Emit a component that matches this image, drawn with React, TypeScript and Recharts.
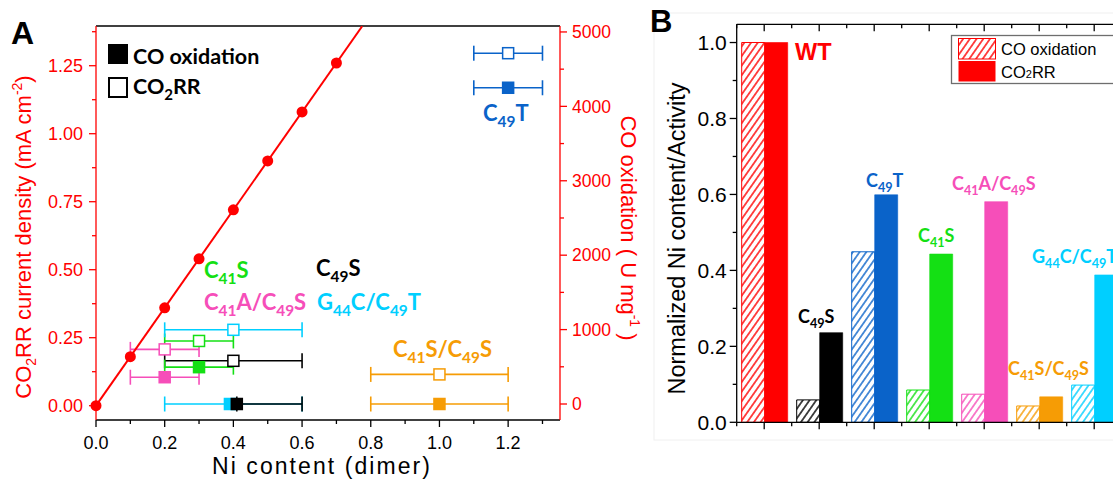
import React from 'react';
import { ScatterChart, Scatter, XAxis, YAxis, ErrorBar, BarChart, Bar, Cell } from 'recharts';

const RED = '#ff0000';
const GREEN = '#14e014';
const PINK = '#f64eb9';
const CYAN = '#00cfff';
const ORANGE = '#f69c05';
const BLUE = '#0a63c9';
const BLACK = '#000000';

const AXIS_FONT = "'Liberation Sans', Arial, sans-serif";
const LABEL_FONT = "Lato, 'Open Sans', sans-serif";

// ---------- panel A ----------
const niTicks = [0, 0.1, 0.2, 0.3, 0.4, 0.5, 0.6, 0.7, 0.8, 0.9, 1.0, 1.1, 1.2, 1.3];
const currentTicks = [0, 0.125, 0.25, 0.375, 0.5, 0.625, 0.75, 0.875, 1.0, 1.125, 1.25, 1.375];
const activityTicks = [0, 500, 1000, 1500, 2000, 2500, 3000, 3500, 4000, 4500, 5000];

// WT dilution points and fitted line
const wtNi = [0, 0.1, 0.2, 0.3, 0.4, 0.5, 0.6, 0.7];
const wtCurrent = [0, 0.18, 0.36, 0.54, 0.72, 0.9, 1.08, 1.26];
const fitNi = [0, 0.775];
const fitCurrent = [0, 1.395];

// mutants (open = CO2RR, left axis; filled = CO oxidation, right axis)
const mutants = ['C41S', 'C41A/C49S', 'G44C/C49T', 'C49S', 'C41S/C49S', 'C49T'];
const mutantColors = [GREEN, PINK, CYAN, BLACK, ORANGE, BLUE];
const mutantNi = [0.3, 0.2, 0.4, 0.4, 1.0, 1.2];
const mutantNiLow = [0.2, 0.1, 0.2, 0.2, 0.8, 1.1];
const mutantNiHigh = [0.4, 0.3, 0.6, 0.6, 1.2, 1.3];
const mutantCurrent = [0.238, 0.207, 0.279, 0.165, 0.115, 1.296];
const activityNi = [0.3, 0.2, 0.39, 0.41, 1.0, 1.2];
const activityNiLow = [0.2, 0.1, 0.2, 0.41, 0.8, 1.1];
const activityNiHigh = [0.4, 0.3, 0.6, 0.6, 1.2, 1.3];
const mutantActivity = [495, 360, 0, 0, 0, 4250];

// ---------- panel B ----------
const bCategories = ['WT', 'C49S', 'C49T', 'C41S', 'C41A/C49S', 'C41S/C49S', 'G44C/C49T'];
const bColors = [RED, BLACK, BLUE, GREEN, PINK, ORANGE, CYAN];
const coOxidationNorm = [1.0, 0.059, 0.449, 0.085, 0.074, 0.043, 0.098];
const co2rrNorm = [1.0, 0.236, 0.599, 0.443, 0.581, 0.067, 0.388];
const normTicks = [0, 0.1, 0.2, 0.3, 0.4, 0.5, 0.6, 0.7, 0.8, 0.9, 1.0];

const wtData = wtNi.map((x, i) => ({ x, y: wtCurrent[i] }));
const fitData = fitNi.map((x, i) => ({ x, y: fitCurrent[i] }));
const barRows = bCategories.map((name, i) => ({ name, coOx: coOxidationNorm[i], co2rr: co2rrNorm[i] }));

const near = (v: number, step: number) => Math.abs(v / step - Math.round(v / step)) < 1e-6;

function makeTick(o: {
  side: 'left' | 'right' | 'bottom' | 'top';
  color: string;
  step: number;
  fmt: (v: number) => string;
  gap: number;
  size: number;
  majorLen?: number;
  minorLen?: number;
}) {
  const majorLen = o.majorLen ?? 7;
  const minorLen = o.minorLen ?? 4;
  return (props: any) => {
    const { x, y, payload } = props;
    const v = payload.value;
    const major = near(v, o.step);
    const len = major ? majorLen : minorLen;
    if (o.side === 'left') {
      return (
        <g>
          <line x1={x} x2={x - len} y1={y} y2={y} stroke={o.color} strokeWidth={1.3} />
          {major && (
            <text x={x - o.gap} y={y} dy="0.36em" textAnchor="end" fill={o.color} fontSize={o.size} fontFamily={AXIS_FONT}>
              {o.fmt(v)}
            </text>
          )}
        </g>
      );
    }
    if (o.side === 'right') {
      return (
        <g>
          <line x1={x} x2={x + len} y1={y} y2={y} stroke={o.color} strokeWidth={1.3} />
          {major && (
            <text x={x + o.gap} y={y} dy="0.36em" textAnchor="start" fill={o.color} fontSize={o.size} fontFamily={AXIS_FONT}>
              {o.fmt(v)}
            </text>
          )}
        </g>
      );
    }
    // bottom (outward) and top (inward) both point down
    return (
      <g>
        <line x1={x} x2={x} y1={y} y2={y + len} stroke={o.color} strokeWidth={1.3} />
        {major && o.side === 'bottom' && (
          <text x={x} y={y + o.gap} textAnchor="middle" fill={o.color} fontSize={o.size} fontFamily={AXIS_FONT}>
            {o.fmt(v)}
          </text>
        )}
      </g>
    );
  };
}

const catTick = (props: any) => {
  const { x, y, payload, index, width } = props;
  const half = payload && payload.offset ? payload.offset : width / bCategories.length / 2;
  return (
    <g>
      <line x1={x} x2={x} y1={y} y2={y + 7} stroke={BLACK} strokeWidth={1.3} />
      <line x1={x - half} x2={x - half} y1={y} y2={y + 4} stroke={BLACK} strokeWidth={1.3} />
      {index === bCategories.length - 1 && (
        <line x1={x + half} x2={x + half} y1={y} y2={y + 4} stroke={BLACK} strokeWidth={1.3} />
      )}
    </g>
  );
};

function Chem({ x, y, text, size, color, weight = 700, family = LABEL_FONT }: any) {
  const parts = text.split(/(\d+)/);
  return (
    <text x={x} y={y} fill={color} fontSize={size} fontWeight={weight} fontFamily={family}>
      {parts.map((p: string, i: number) =>
        i % 2 === 1 ? (
          <tspan key={i} fontSize={size * 0.7} dy={size * 0.28}>{p}</tspan>
        ) : (
          <tspan key={i} dy={i === 0 ? 0 : -size * 0.28}>{p}</tspan>
        )
      )}
    </text>
  );
}

const square = (color: string, filled: boolean) => (p: any) => (
  <rect
    x={p.cx - 5.5}
    y={p.cy - 5.5}
    width={11}
    height={11}
    fill={filled ? color : '#fff'}
    stroke={color}
    strokeWidth={1.5}
  />
);

function PanelA() {
  return (
    <ScatterChart width={650} height={481} margin={{ top: 26, right: 30, bottom: 21, left: 36 }}>
      <XAxis
        type="number"
        dataKey="x"
        domain={[0, 1.351]}
        ticks={niTicks}
        interval={0}
        height={40}
        tickSize={0}
        tickMargin={0}
        tickLine={false}
        axisLine={{ stroke: BLACK, strokeWidth: 1.3 }}
        tick={makeTick({ side: 'bottom', color: BLACK, step: 0.2, fmt: (v) => v.toFixed(1), gap: 29, size: 18 })}
      />
      <XAxis
        xAxisId="top"
        type="number"
        dataKey="x"
        orientation="top"
        mirror
        domain={[0, 1.351]}
        ticks={niTicks}
        interval={0}
        tickSize={0}
        tickMargin={0}
        tickLine={false}
        axisLine={{ stroke: BLACK, strokeWidth: 1.3 }}
        tick={makeTick({ side: 'top', color: BLACK, step: 0.2, fmt: () => '', gap: 0, size: 0, majorLen: 7, minorLen: 6 })}
      />
      <YAxis
        yAxisId="left"
        type="number"
        dataKey="y"
        domain={[-0.0526, 1.396]}
        allowDataOverflow
        ticks={currentTicks}
        interval={0}
        width={60}
        tickSize={0}
        tickMargin={0}
        tickLine={false}
        axisLine={{ stroke: RED, strokeWidth: 1.3 }}
        tick={makeTick({ side: 'left', color: RED, step: 0.25, fmt: (v) => v.toFixed(2), gap: 13, size: 18 })}
      />
      <YAxis
        yAxisId="right"
        orientation="right"
        type="number"
        dataKey="y"
        domain={[-215, 5080]}
        allowDataOverflow
        ticks={activityTicks}
        interval={0}
        width={60}
        tickSize={0}
        tickMargin={0}
        tickLine={false}
        axisLine={{ stroke: RED, strokeWidth: 1.3 }}
        tick={makeTick({ side: 'right', color: RED, step: 1000, fmt: (v) => String(v), gap: 12, size: 17.5 })}
      />
      <Scatter
        yAxisId="left"
        data={fitData}
        isAnimationActive={false}
        line={{ stroke: RED, strokeWidth: 2 }}
        shape={() => <g />}
      />
      <Scatter
        yAxisId="left"
        data={wtData}
        isAnimationActive={false}
        shape={(p: any) => <circle cx={p.cx} cy={p.cy} r={5.5} fill={RED} />}
      />
      {mutants.map((name, i) => (
        <Scatter
          key={'o' + name}
          yAxisId="left"
          isAnimationActive={false}
          data={[{ x: mutantNi[i], y: mutantCurrent[i], err: [mutantNi[i] - mutantNiLow[i], mutantNiHigh[i] - mutantNi[i]] }]}
          shape={square(mutantColors[i], false)}
        >
          <ErrorBar dataKey="err" direction="x" width={7.5} stroke={mutantColors[i]} strokeWidth={1.6} isAnimationActive={false} />
        </Scatter>
      ))}
      {mutants.map((name, i) => (
        <Scatter
          key={'f' + name}
          yAxisId="right"
          isAnimationActive={false}
          data={[{ x: activityNi[i], y: mutantActivity[i], err: [activityNi[i] - activityNiLow[i], activityNiHigh[i] - activityNi[i]] }]}
          shape={square(mutantColors[i], true)}
        >
          <ErrorBar dataKey="err" direction="x" width={7.5} stroke={mutantColors[i]} strokeWidth={1.6} isAnimationActive={false} />
        </Scatter>
      ))}
    </ScatterChart>
  );
}

function PanelB() {
  return (
    <BarChart
      width={520}
      height={481}
      data={barRows}
      margin={{ top: 24.3, right: 48.3, bottom: 28.7, left: 26.7 }}
      barCategoryGap={5}
      barGap={0}
    >
      <XAxis
        dataKey="name"
        interval={0}
        height={30}
        tickSize={0}
        tickMargin={0}
        tickLine={false}
        axisLine={{ stroke: BLACK, strokeWidth: 1.3 }}
        tick={catTick}
      />
      <XAxis
        xAxisId="top"
        dataKey="name"
        orientation="top"
        mirror
        interval={0}
        tickSize={0}
        tickMargin={0}
        tickLine={false}
        axisLine={{ stroke: BLACK, strokeWidth: 1.3 }}
        tick={catTick}
      />
      <YAxis
        type="number"
        domain={[0, 1.048]}
        allowDataOverflow
        ticks={normTicks}
        interval={0}
        width={60}
        tickSize={0}
        tickMargin={0}
        tickLine={false}
        axisLine={{ stroke: BLACK, strokeWidth: 1.3 }}
        tick={makeTick({ side: 'left', color: BLACK, step: 0.2, fmt: (v) => v.toFixed(1), gap: 10, size: 21 })}
      />
      <Bar dataKey="coOx" isAnimationActive={false} strokeWidth={1}>
        {barRows.map((r, i) => (
          <Cell key={r.name} fill={`url(#hatch${i})`} stroke={bColors[i]} />
        ))}
      </Bar>
      <Bar dataKey="co2rr" isAnimationActive={false} strokeWidth={1}>
        {barRows.map((r, i) => (
          <Cell key={r.name} fill={bColors[i]} stroke={bColors[i]} strokeOpacity={0.6} />
        ))}
      </Bar>
    </BarChart>
  );
}

function Overlay() {
  return (
    <svg width={1113} height={481} style={{ position: 'absolute', left: 0, top: 0, pointerEvents: 'none' }}>
      {/* faint frame around panel B (drawn first, under everything) */}
      <rect x={654} y={13} width={480} height={427} fill="none" stroke="#f0f0f0" strokeWidth={1} />

      {/* panel letters */}
      <text x={11} y={43.5} fontSize={32} fontWeight={700} fontFamily={AXIS_FONT}>A</text>
      <text x={650} y={32} fontSize={31} fontWeight={700} fontFamily={AXIS_FONT}>B</text>

      {/* panel A legend */}
      <rect x={108} y={44} width={20} height={20} fill={BLACK} />
      <rect x={109} y={78} width={18} height={19} fill="#fff" stroke={BLACK} strokeWidth={2} />
      <text x={133} y={63.5} fontSize={21.5} fontWeight={700} fontFamily={LABEL_FONT}>CO oxidation</text>
      <Chem x={133} y={94} text="CO2RR" size={21.5} color={BLACK} />

      {/* panel A axis titles */}
      <g transform="translate(23,237) rotate(-90)">
        <text x={0} y={0} dy="0.36em" textAnchor="middle" fill={RED} fontSize={22} fontFamily={AXIS_FONT}>
          CO<tspan fontSize={14} dy={5}>2</tspan>
          <tspan dy={-5}>RR current density (mA cm</tspan>
          <tspan fontSize={14} dy={-9}>-2</tspan>
          <tspan dy={9}>)</tspan>
        </text>
      </g>
      <g transform="translate(629,228) rotate(90)">
        <text x={0} y={0} dy="0.36em" textAnchor="middle" fill={RED} fontSize={22} fontFamily={AXIS_FONT}>
          CO oxidation ( U mg<tspan fontSize={14} dy={-9}>-1</tspan>
          <tspan dy={9}> )</tspan>
        </text>
      </g>
      <text x={321} y={474} textAnchor="middle" fontSize={23} fontFamily={AXIS_FONT} textLength={218} lengthAdjust="spacing">
        Ni content (dimer)
      </text>

      {/* panel A annotations */}
      <Chem x={204} y={278} text="C41S" size={22} color={GREEN} />
      <Chem x={316} y={276} text="C49S" size={22} color={BLACK} />
      <Chem x={204} y={310} text="C41A/C49S" size={22} color={PINK} />
      <Chem x={317} y={310} text="G44C/C49T" size={22} color={CYAN} />
      <Chem x={393} y={357} text="C41S/C49S" size={22} color={ORANGE} />
      <Chem x={483} y={121} text="C49T" size={22} color={BLUE} />

      {/* panel B title */}
      <g transform="translate(677,238.5) rotate(-90)">
        <text x={0} y={0} dy="0.36em" textAnchor="middle" fontSize={23.5} fontFamily={AXIS_FONT}>
          Normalized Ni content/Activity
        </text>
      </g>

      {/* panel B annotations */}
      <text x={795} y={60} fill={RED} fontSize={23.5} fontWeight={700} fontFamily={AXIS_FONT}>WT</text>
      <Chem x={798} y={323} text="C49S" size={18} color={BLACK} />
      <Chem x={866} y={186.5} text="C49T" size={18} color={BLUE} />
      <Chem x={918} y={241.5} text="C41S" size={18} color={GREEN} />
      <Chem x={952} y={190} text="C41A/C49S" size={18} color={PINK} />
      <Chem x={1008} y={375} text="C41S/C49S" size={18} color={ORANGE} />
      <Chem x={1032} y={263} text="G44C/C49T" size={18} color={CYAN} />

      {/* panel B legend */}
      <rect x={951.5} y={35.5} width={200} height={48} fill="#fff" stroke="#6e6e6e" strokeWidth={1.3} />
      <rect x={958.5} y={38.5} width={37} height={20.5} fill="url(#hatch0)" stroke={RED} strokeWidth={1} />
      <rect x={958.5} y={61} width={37} height={20.5} fill={RED} />
      <text x={1001} y={55} fontSize={16.5} fontFamily={AXIS_FONT}>CO oxidation</text>
      <text x={1001} y={77.5} fontSize={16.5} fontFamily={AXIS_FONT}>
        CO<tspan fontSize={11}>2</tspan>RR
      </text>
    </svg>
  );
}

export default function App() {
  return (
    <div style={{ position: 'fixed', left: 0, top: 0, width: 1113, height: 481, overflow: 'hidden', background: '#fff' }}>
      <svg width={0} height={0} style={{ position: 'absolute' }}>
        <defs>
          {bColors.map((c, i) => (
            <pattern key={i} id={`hatch${i}`} patternUnits="userSpaceOnUse" width={5.5} height={5.5} patternTransform="rotate(35)">
              <rect width={5.5} height={5.5} fill="#fff" />
              <line x1={2.75} y1={0} x2={2.75} y2={5.5} stroke={c} strokeWidth={1.4} />
            </pattern>
          ))}
        </defs>
      </svg>
      <div style={{ position: 'absolute', left: 0, top: 0 }}>
        <PanelA />
      </div>
      <div style={{ position: 'absolute', left: 650, top: 0 }}>
        <PanelB />
      </div>
      <Overlay />
    </div>
  );
}
